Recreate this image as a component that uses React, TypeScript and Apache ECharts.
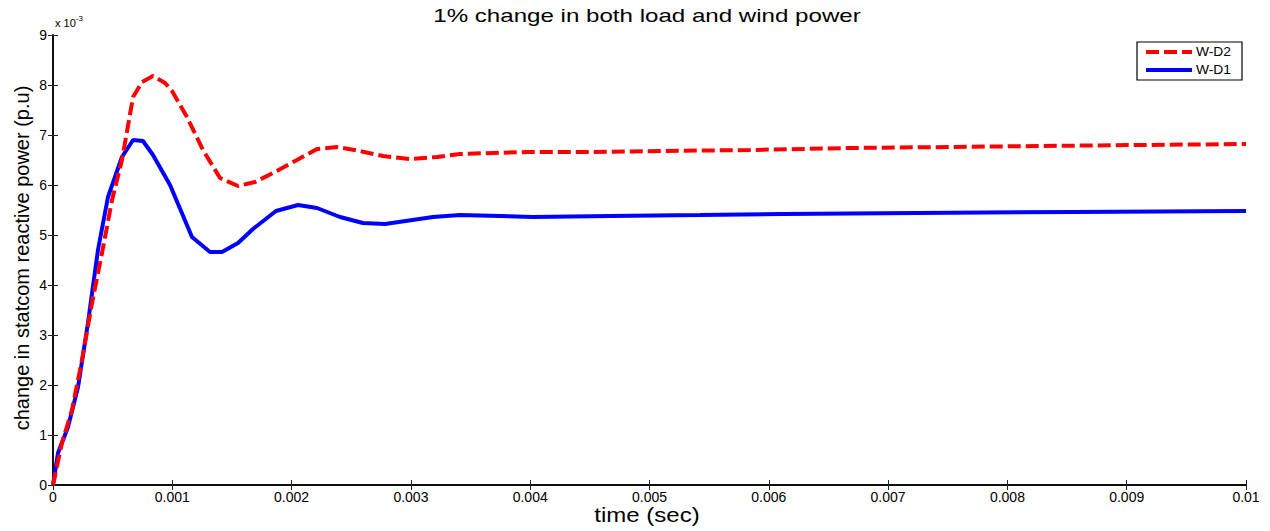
import React, { useEffect, useRef } from "react";
import * as echarts from "echarts";

// time (sec) and values in units of 1e-3 p.u
const timeD1 = [0, 0.000042, 0.000126, 0.00021, 0.000293, 0.000377, 0.000461, 0.000578, 0.000671, 0.000754, 0.000838, 0.000981, 0.001165, 0.001316, 0.001417, 0.001551, 0.001676, 0.001869, 0.002054, 0.002213, 0.002406, 0.002598, 0.002783, 0.003185, 0.003412, 0.004023, 0.004669, 0.005423, 0.006119, 0.007242, 0.00855, 0.01];
const valD1 = [0, 0.64, 1.16, 1.96, 3.24, 4.7, 5.76, 6.56, 6.9, 6.88, 6.6, 6.0, 4.96, 4.66, 4.66, 4.84, 5.12, 5.48, 5.6, 5.54, 5.36, 5.24, 5.22, 5.36, 5.4, 5.36, 5.38, 5.4, 5.42, 5.44, 5.46, 5.48];

const timeD2 = [0, 0.000075, 0.000159, 0.000243, 0.000327, 0.000411, 0.000495, 0.000578, 0.000671, 0.000746, 0.000838, 0.000939, 0.000998, 0.001123, 0.001257, 0.0014, 0.001551, 0.001693, 0.001844, 0.002045, 0.002213, 0.002381, 0.002573, 0.002766, 0.002992, 0.003219, 0.003412, 0.003688, 0.003973, 0.004526, 0.005088, 0.005842, 0.006681, 0.007519, 0.008273, 0.009112, 0.01];
const valD2 = [0, 0.84, 1.5, 2.5, 3.64, 4.64, 5.7, 6.5, 7.76, 8.06, 8.18, 8.04, 7.88, 7.36, 6.7, 6.14, 5.98, 6.06, 6.24, 6.5, 6.72, 6.76, 6.68, 6.58, 6.52, 6.56, 6.62, 6.64, 6.66, 6.66, 6.68, 6.7, 6.74, 6.76, 6.78, 6.8, 6.82];

const titleText = "1% change in both load and wind power";
const xLabel = "time (sec)";
const yLabel = "change in statcom reactive power (p.u)";
const seriesNames = ["W-D2", "W-D1"];
const seriesColors = ["#ff0000", "#0000ff"];

const FONT = "'Liberation Sans', Arial, Helvetica, sans-serif";

export default function App() {
  const ref = useRef<HTMLDivElement>(null);
  useEffect(() => {
    document.body.style.margin = "0";
    const chart = echarts.init(ref.current!, null, { renderer: "svg" });
    const fmtX = (v: number) => String(parseFloat(v.toFixed(4)));
    const tickCommon = {
      axisTick: { show: true, inside: true, length: 5, lineStyle: { color: "#222", width: 1 } },
      axisLine: { show: true, lineStyle: { color: "#000", width: 1.5 } },
      splitLine: { show: false },
    };
    const txt = (extra: any, style: any) => ({
      type: "text",
      z: 100,
      ...extra,
      style: { fontFamily: FONT, fill: "#000", ...style },
    });
    chart.setOption({
      animation: false,
      backgroundColor: "#fff",
      grid: { left: 53, right: 24, top: 35, bottom: 46, outerBoundsMode: "none", containLabel: false },
      xAxis: [
        {
          type: "value",
          min: 0,
          max: 0.01,
          interval: 0.001,
          position: "bottom",
          axisLabel: { fontFamily: FONT, fontSize: 14, color: "#000", margin: 5, formatter: fmtX },
          ...tickCommon,
        },
        {
          type: "value",
          min: 0,
          max: 0.01,
          interval: 0.001,
          position: "top",
          axisLabel: { show: false },
          ...tickCommon,
        },
      ],
      yAxis: [
        {
          type: "value",
          min: 0,
          max: 9,
          interval: 1,
          position: "left",
          axisLabel: { fontFamily: FONT, fontSize: 14, color: "#000", margin: 6 },
          ...tickCommon,
        },
        {
          type: "value",
          min: 0,
          max: 9,
          interval: 1,
          position: "right",
          axisLabel: { show: false },
          ...tickCommon,
        },
      ],
      graphic: [
        txt({ x: 647, y: 16, scaleX: 1.34 }, { text: titleText, fontSize: 18, align: "center", verticalAlign: "middle" }),
        txt({ x: 647, y: 515, scaleX: 1.2 }, { text: xLabel, fontSize: 20, align: "center", verticalAlign: "middle" }),
        txt({ x: 22, y: 258, rotation: Math.PI / 2, scaleX: 1.0 }, { text: yLabel, fontSize: 20, align: "center", verticalAlign: "middle" }),
        {
          type: "text",
          left: 55,
          top: 14,
          z: 100,
          style: {
            text: "{a|x 10}{b|-3}",
            rich: {
              a: { fontFamily: FONT, fontSize: 11, fill: "#000", verticalAlign: "bottom" },
              b: { fontFamily: FONT, fontSize: 8, fill: "#000", verticalAlign: "top", padding: [0, 0, 6, 0] },
            },
          },
        },
        {
          type: "rect",
          z: 100,
          shape: { x: 1137, y: 42, width: 105, height: 38 },
          style: { fill: "#fff", stroke: "#000", lineWidth: 1.2 },
        },
        {
          type: "line",
          z: 101,
          shape: { x1: 1146, y1: 52, x2: 1192, y2: 52 },
          style: { stroke: seriesColors[0], lineWidth: 4, lineDash: [13, 5] },
        },
        {
          type: "line",
          z: 101,
          shape: { x1: 1146, y1: 70, x2: 1192, y2: 70 },
          style: { stroke: seriesColors[1], lineWidth: 4 },
        },
        txt({ x: 1196, y: 52, scaleX: 1.15, z: 101 }, { text: seriesNames[0], fontSize: 12, align: "left", verticalAlign: "middle" }),
        txt({ x: 1196, y: 70, scaleX: 1.15, z: 101 }, { text: seriesNames[1], fontSize: 12, align: "left", verticalAlign: "middle" }),
      ],
      series: [
        {
          name: seriesNames[0],
          type: "line",
          xAxisIndex: 0,
          yAxisIndex: 0,
          symbol: "none",
          data: timeD2.map((t, i) => [t, valD2[i]]),
          lineStyle: { color: seriesColors[0], width: 4, type: [13, 5], cap: "butt" },
          itemStyle: { color: seriesColors[0] },
          z: 3,
        },
        {
          name: seriesNames[1],
          type: "line",
          xAxisIndex: 0,
          yAxisIndex: 0,
          symbol: "none",
          data: timeD1.map((t, i) => [t, valD1[i]]),
          lineStyle: { color: seriesColors[1], width: 4 },
          itemStyle: { color: seriesColors[1] },
          z: 2,
        },
      ],
    });
    return () => chart.dispose();
  }, []);
  return <div ref={ref} style={{ position: "absolute", left: 0, top: 0, width: 1270, height: 531 }} />;
}
